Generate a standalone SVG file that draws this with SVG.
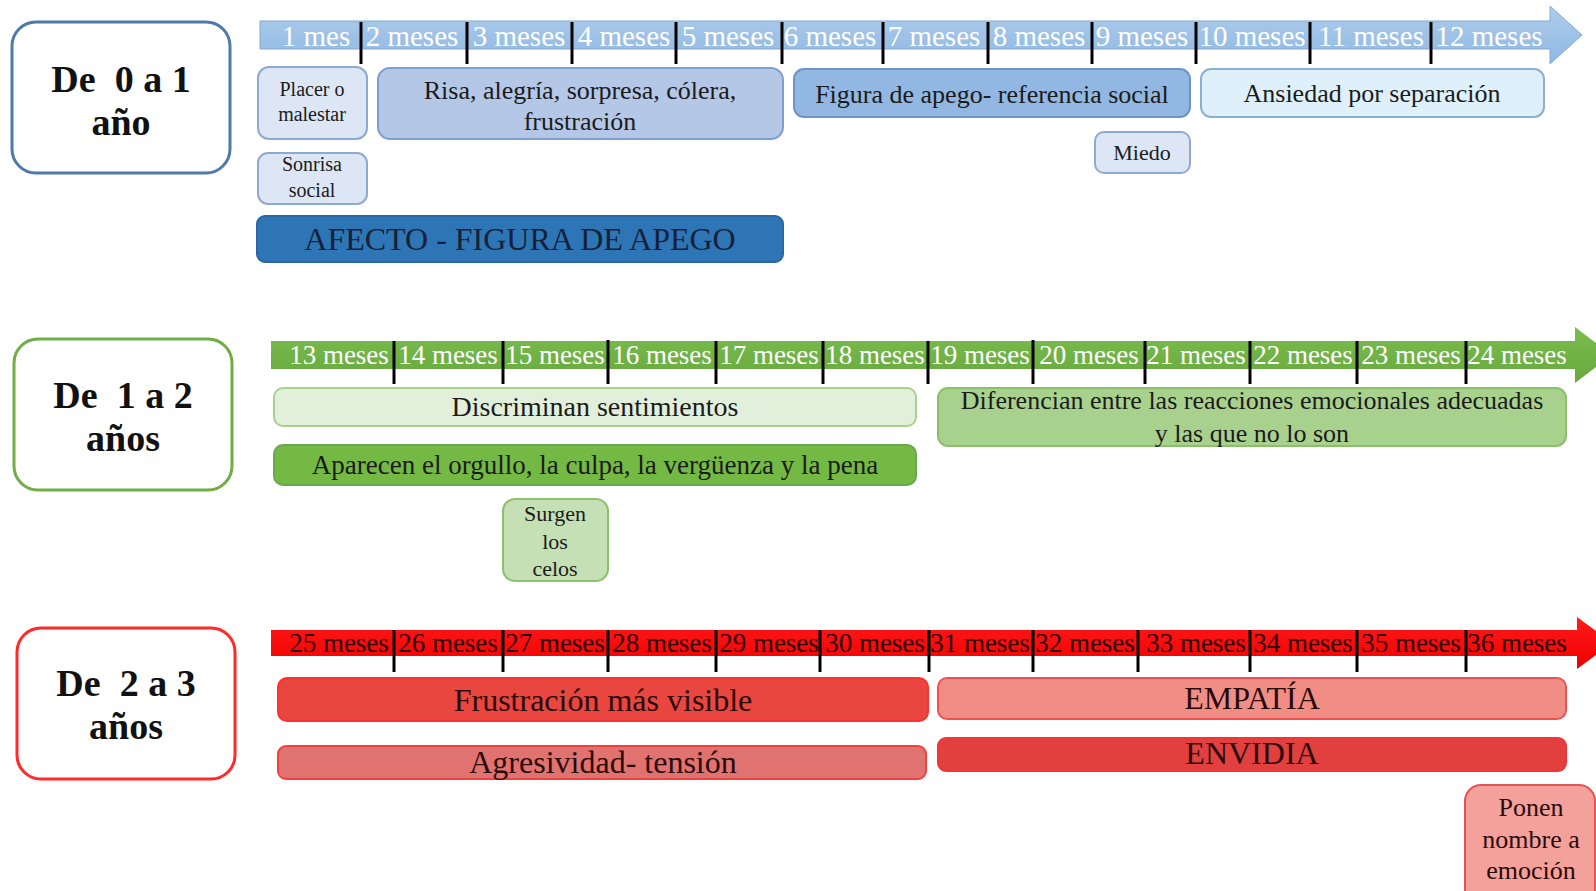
<svg xmlns="http://www.w3.org/2000/svg" width="1596" height="891" viewBox="0 0 1596 891">
<defs>
<linearGradient id="gBlue" x1="0" y1="0" x2="0" y2="1"><stop offset="0" stop-color="#aecdec"/><stop offset="1" stop-color="#8fb8e2"/></linearGradient>
<linearGradient id="gGreen" x1="0" y1="0" x2="0" y2="1"><stop offset="0" stop-color="#7bbd4e"/><stop offset="1" stop-color="#68a83f"/></linearGradient>
<linearGradient id="gRed" x1="0" y1="0" x2="0" y2="1"><stop offset="0" stop-color="#ff1a1a"/><stop offset="1" stop-color="#f00000"/></linearGradient>
</defs>
<style>
text{font-family:"Liberation Serif","Times New Roman",serif;text-anchor:middle;}
.age{fill:#fff;stroke-width:3;}
.ageT{font-size:38px;font-weight:bold;fill:#111;}
.tick{stroke:#000;stroke-width:3;}
.m1{font-size:29px;fill:#fff;}
.m2{font-size:27px;fill:#fff;}
.m3{font-size:27px;fill:#2a0000;}
.b{stroke-width:2;}
.t{fill:#1b1b1b;}
</style>
<rect width="1596" height="891" fill="#fff"/>

<!-- Section 1 -->
<g id="age0">
<rect class="age" x="12" y="22" width="218" height="151" rx="24" stroke="#4f7aaa"/>
<text class="ageT" x="121" y="92" xml:space="preserve">De  0 a 1</text>
<text class="ageT" x="121" y="135">año</text>
</g>
<g id="timeline1">
<path d="M260,21 H1550 V6 L1582,35 L1550,64 V49 H260 Z" fill="url(#gBlue)" stroke="#84aad4" stroke-width="1"/>
<g class="m1">
<text x="316" y="46">1 mes</text>
<text x="412" y="46">2 meses</text>
<text x="519" y="46">3 meses</text>
<text x="624" y="46">4 meses</text>
<text x="728" y="46">5 meses</text>
<text x="830" y="46">6 meses</text>
<text x="934" y="46">7 meses</text>
<text x="1039" y="46">8 meses</text>
<text x="1142" y="46">9 meses</text>
<text x="1252" y="46">10 meses</text>
<text x="1371" y="46">11 meses</text>
<text x="1489" y="46">12 meses</text>
</g>
</g>
<g id="connectors">
<g class="tick">
<line x1="361" y1="22" x2="361" y2="64"/><line x1="467" y1="22" x2="467" y2="64"/><line x1="572" y1="22" x2="572" y2="64"/><line x1="676" y1="22" x2="676" y2="64"/><line x1="782" y1="22" x2="782" y2="64"/><line x1="883" y1="22" x2="883" y2="64"/><line x1="988" y1="22" x2="988" y2="64"/><line x1="1092" y1="22" x2="1092" y2="64"/><line x1="1196" y1="22" x2="1196" y2="64"/><line x1="1310" y1="22" x2="1310" y2="64"/><line x1="1431" y1="22" x2="1431" y2="64"/>
</g>
</g>
<g id="placer"><rect class="b" x="258" y="67" width="109" height="72" rx="11" fill="#dce6f4" stroke="#8eaad0"/>
<text class="t" x="312" y="96" font-size="20">Placer o</text><text class="t" x="312" y="121" font-size="20">malestar</text></g>
<g id="sonrisa"><rect class="b" x="258" y="153" width="109" height="51" rx="10" fill="#dce6f4" stroke="#8eaad0"/>
<text class="t" x="312" y="171" font-size="20">Sonrisa</text><text class="t" x="312" y="197" font-size="20">social</text></g>
<g id="risa"><rect class="b" x="378" y="68" width="405" height="71" rx="12" fill="#b4c7e7" stroke="#7f9fcf"/>
<text class="t" x="580" y="99" font-size="26">Risa, alegría, sorpresa, cólera,</text><text class="t" x="580" y="130" font-size="26">frustración</text></g>
<g id="figura"><rect class="b" x="794" y="69" width="396" height="48" rx="10" fill="#91b7e2" stroke="#6f94c4"/>
<text class="t" x="992" y="103" font-size="26">Figura de apego- referencia social</text></g>
<g id="ansiedad"><rect class="b" x="1201" y="69" width="343" height="48" rx="10" fill="#def0fa" stroke="#8ab0d0"/>
<text class="t" x="1372" y="102" font-size="26">Ansiedad por separación</text></g>
<g id="miedo"><rect class="b" x="1095" y="132" width="95" height="41" rx="9" fill="#dce6f4" stroke="#8eaad0"/>
<text class="t" x="1142" y="160" font-size="22">Miedo</text></g>
<g id="afecto"><rect x="257" y="216" width="526" height="46" rx="8" fill="#2e75b6" stroke="#2a66a2" stroke-width="2"/>
<text x="520" y="250" font-size="32" fill="#14213a">AFECTO - FIGURA DE APEGO</text></g>

<!-- Section 2 -->
<g id="age1">
<rect class="age" x="14" y="339" width="218" height="151" rx="24" stroke="#70ad47"/>
<text class="ageT" x="123" y="408" xml:space="preserve">De  1 a 2</text>
<text class="ageT" x="123" y="451">años</text>
</g>
<g id="timeline2">
<path d="M271,341 H1575 V327 L1612,355 L1575,383 V369 H271 Z" fill="url(#gGreen)"/>
<g class="m2">
<text x="339" y="364">13 meses</text>
<text x="448" y="364">14 meses</text>
<text x="555" y="364">15 meses</text>
<text x="662" y="364">16 meses</text>
<text x="769" y="364">17 meses</text>
<text x="875" y="364">18 meses</text>
<text x="980" y="364">19 meses</text>
<text x="1089" y="364">20 meses</text>
<text x="1196" y="364">21 meses</text>
<text x="1303" y="364">22 meses</text>
<text x="1411" y="364">23 meses</text>
<text x="1517" y="364">24 meses</text>
</g>
</g>
<g id="connectors2">
<g class="tick">
<line x1="394" y1="341" x2="394" y2="384"/><line x1="503" y1="341" x2="503" y2="384"/><line x1="608" y1="340" x2="608" y2="384"/><line x1="716" y1="341" x2="716" y2="384"/><line x1="823" y1="341" x2="823" y2="384"/><line x1="928" y1="341" x2="928" y2="384"/><line x1="1033" y1="340" x2="1033" y2="384"/><line x1="1145" y1="341" x2="1145" y2="384"/><line x1="1250" y1="341" x2="1250" y2="384"/><line x1="1357" y1="341" x2="1357" y2="384"/><line x1="1466" y1="341" x2="1466" y2="384"/>
</g>
</g>
<g id="discriminan"><rect class="b" x="274" y="388" width="642" height="38" rx="9" fill="#e2efda" stroke="#a9d18e"/>
<text class="t" x="595" y="416" font-size="28">Discriminan sentimientos</text></g>
<g id="aparecen"><rect class="b" x="274" y="445" width="642" height="40" rx="9" fill="#74b944" stroke="#6aa84f"/>
<text class="t" x="595" y="474" font-size="27">Aparecen el orgullo, la culpa, la vergüenza y la pena</text></g>
<g id="diferencian"><rect class="b" x="938" y="388" width="628" height="58" rx="10" fill="#a9d18e" stroke="#8cbf6a"/>
<text class="t" x="1252" y="409" font-size="26">Diferencian entre las reacciones emocionales adecuadas</text>
<text class="t" x="1252" y="442" font-size="26">y las que no lo son</text></g>
<g id="celos"><rect class="b" x="503" y="499" width="105" height="82" rx="12" fill="#c5e0b4" stroke="#8fc06d"/>
<text class="t" x="555" y="521" font-size="22">Surgen</text><text class="t" x="555" y="549" font-size="22">los</text><text class="t" x="555" y="576" font-size="22">celos</text></g>

<!-- Section 3 -->
<g id="age2">
<rect class="age" x="17" y="628" width="218" height="151" rx="24" stroke="#ff2a2a"/>
<text class="ageT" x="126" y="696" xml:space="preserve">De  2 a 3</text>
<text class="ageT" x="126" y="739">años</text>
</g>
<g id="timeline3">
<path d="M271,630 H1577 V617 L1612,643 L1577,669 V656 H271 Z" fill="url(#gRed)"/>
<g class="m3">
<text x="339" y="652">25 meses</text>
<text x="448" y="652">26 meses</text>
<text x="555" y="652">27 meses</text>
<text x="662" y="652">28 meses</text>
<text x="769" y="652">29 meses</text>
<text x="875" y="652">30 meses</text>
<text x="980" y="652">31 meses</text>
<text x="1085" y="652">32 meses</text>
<text x="1196" y="652">33 meses</text>
<text x="1303" y="652">34 meses</text>
<text x="1411" y="652">35 meses</text>
<text x="1517" y="652">36 meses</text>
</g>
</g>
<g id="connectors3">
<g class="tick">
<line x1="394" y1="630" x2="394" y2="672"/><line x1="503" y1="630" x2="503" y2="672"/><line x1="608" y1="630" x2="608" y2="672"/><line x1="716" y1="630" x2="716" y2="672"/><line x1="820" y1="630" x2="820" y2="672"/><line x1="929" y1="630" x2="929" y2="672"/><line x1="1033" y1="630" x2="1033" y2="672"/><line x1="1138" y1="630" x2="1138" y2="672"/><line x1="1250" y1="630" x2="1250" y2="672"/><line x1="1357" y1="630" x2="1357" y2="672"/><line x1="1466" y1="630" x2="1466" y2="672"/>
</g>
</g>
<g id="frustracion"><rect class="b" x="278" y="678" width="650" height="43" rx="9" fill="#e8463e" stroke="#ff3030"/>
<text x="603" y="711" font-size="32" fill="#2a0a0a">Frustración más visible</text></g>
<g id="empatia"><rect class="b" x="938" y="678" width="628" height="41" rx="9" fill="#f08e86" stroke="#f05050"/>
<text x="1252" y="709" font-size="32" fill="#2a0a0a">EMPATÍA</text></g>
<g id="agresividad"><rect class="b" x="278" y="746" width="648" height="33" rx="8" fill="#e07370" stroke="#f04040"/>
<text x="603" y="773" font-size="32" fill="#2a0a0a">Agresividad- tensión</text></g>
<g id="envidia"><rect class="b" x="938" y="738" width="628" height="33" rx="8" fill="#e1403f" stroke="#f03535"/>
<text x="1252" y="764" font-size="32" fill="#2a0a0a">ENVIDIA</text></g>
<g id="ponen"><rect class="b" x="1465" y="785" width="130" height="120" rx="16" fill="#f4a19b" stroke="#e25555"/>
<text x="1531" y="816" font-size="26" fill="#2a0a0a">Ponen</text><text x="1531" y="848" font-size="26" fill="#2a0a0a">nombre a</text><text x="1531" y="879" font-size="26" fill="#2a0a0a">emoción</text></g>
</svg>
